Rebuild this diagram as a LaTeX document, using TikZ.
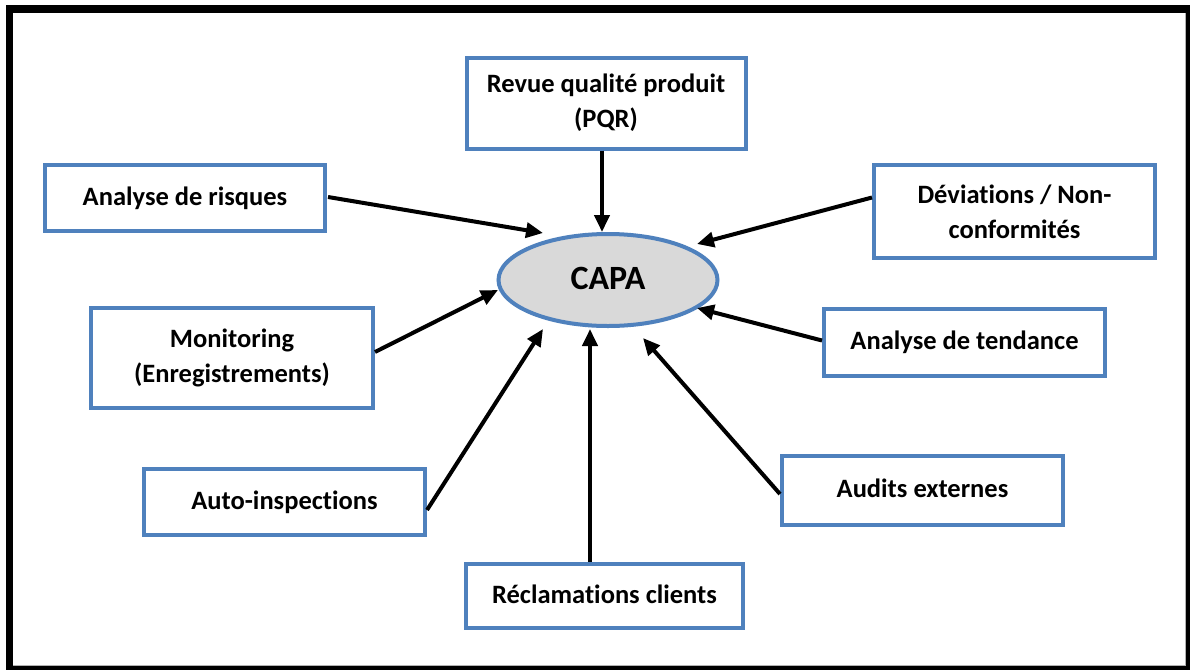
\documentclass[tikz,border=0pt]{standalone}
\usepackage{fontspec}
\setmainfont{Carlito}[Ligatures=NoCommon]
\usetikzlibrary{arrows.meta,calc,shapes.geometric}
\definecolor{boxblue}{RGB}{79,129,189}
\definecolor{capagray}{RGB}{217,217,217}
\newcommand{\upline}[1]{\raisebox{4pt}{#1}}
\begin{document}
\begin{tikzpicture}[x=1pt,y=-1pt,
  box/.style={draw=boxblue,line width=4pt,fill=white,align=center,inner sep=0pt,
    font=\fontsize{26.5}{35}\selectfont\bfseries},
  arr/.style={line width=4pt,-{Triangle[length=17pt,width=15pt]}}]
\useasboundingbox (0,0) rectangle (1190,670);
\fill[black] (6,5) rectangle (1190,670);
\fill[white] (13,13) rectangle (1185,665);
\draw[gray!60,line width=1pt] (1185.5,13) -- (1185.5,665.5) -- (13,665.5);

\node[ellipse,draw=boxblue,line width=4pt,fill=capagray,inner sep=0pt,
  minimum width=219pt,minimum height=92pt,
  font=\fontsize{34}{40}\selectfont\bfseries] (capa) at (608,280) {\raisebox{3pt}{CAPA}};

\node[box,minimum width=279pt,minimum height=91pt] (pqr) at (606,103) {Revue qualité produit\\(PQR)};
\node[box,minimum width=280pt,minimum height=66pt] (ris) at (185,198) {\upline{Analyse de risques}};
\node[box,minimum width=281pt,minimum height=93pt] (dev) at (1014.5,211.5) {Déviations / Non-\\conformités};
\node[box,minimum width=282pt,minimum height=100pt] (mon) at (232,358) {Monitoring\\(Enregistrements)};
\node[box,minimum width=281pt,minimum height=67pt] (ten) at (964.5,342.5) {\upline{Analyse de tendance}};
\node[box,minimum width=281pt,minimum height=66pt] (aut) at (284.5,502) {\upline{Auto-inspections}};
\node[box,minimum width=281pt,minimum height=69pt] (aud) at (922.5,490.5) {\upline{Audits externes}};
\node[box,minimum width=277pt,minimum height=64pt] (rec) at (604.5,596) {\upline{Réclamations clients}};

\coordinate (tPQR) at (602,232);
\coordinate (tRis) at (543,233);
\coordinate (tDev) at (697,244);
\coordinate (tMon) at (498,290);
\coordinate (tTen) at (697,308);
\coordinate (tAut) at (543,329);
\coordinate (tRec) at (590,329);
\coordinate (tAud) at (643,338);

\draw[arr] ($(pqr.south)+(-4,0)$) -- (tPQR);
\draw[arr] ($(ris.east)+(1,-1)$) -- (tRis);
\draw[arr] ($(dev.west)+(0,-14)$) -- (tDev);
\draw[arr] ($(mon.east)+(0,-6)$) -- (tMon);
\draw[arr] ($(ten.west)+(0,-2)$) -- (tTen);
\draw[arr] ($(aut.east)+(0,8)$) -- (tAut);
\draw[arr] ($(rec.north)+(-14.5,0)$) -- (tRec);
\draw[arr] ($(aud.west)+(0,3.5)$) -- (tAud);
\end{tikzpicture}
\end{document}
